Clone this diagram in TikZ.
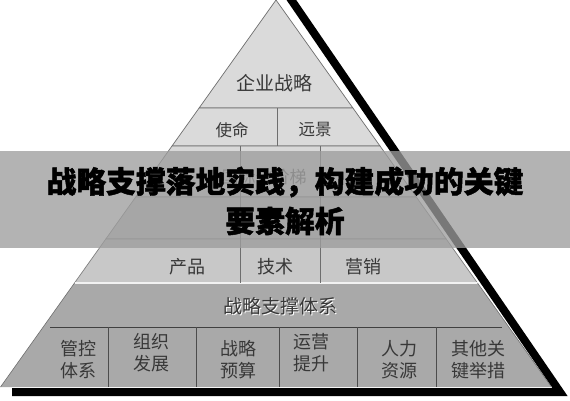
\documentclass[tikz,border=0pt]{standalone}
\usepackage{fontspec}
\newfontfamily\cjk{Noto Sans CJK SC}[BoldFeatures={FakeBold=1.6}]
\usetikzlibrary{positioning}
\definecolor{toplayer}{HTML}{DADADA}
\definecolor{ladderlayer}{HTML}{D8D8D8}
\definecolor{grouplayer}{HTML}{C4C4C4}
\definecolor{prodlayer}{HTML}{C8C8C8}
\definecolor{baselayer}{HTML}{A9A9A9}
\definecolor{rowline}{HTML}{6E6E6E}
\definecolor{inktext}{HTML}{383838}
\definecolor{veil}{HTML}{9D9D9D}
\tikzset{
	layer/.style={draw=rowline, line width=0.7pt, line join=round},
	divider/.style={draw=rowline, line width=0.8pt},
	cell/.style={font=\cjk\fontsize{18}{22}\selectfont, text=inktext, align=center, inner sep=0pt},
	banner/.style={fill=veil, fill opacity=0.77},
	headline/.style={font=\cjk\bfseries\fontsize{29.8}{39}\selectfont, text=black, inner sep=0pt}
}

\begin{document}
\begin{tikzpicture}[x=1pt, y=-1pt]
\useasboundingbox (0,0) rectangle (570,400);
\fill[white] (0,0) rectangle (570,400);

% shadow behind the pyramid
\draw[line width=8pt, miter limit=20] (290,-2) -- (560,392) -- (12,392);

% layers, top to bottom
\filldraw[layer, fill=toplayer] (276,0) -- (352.9,108) -- (199.1,108) -- cycle;
\filldraw[layer, fill=toplayer] (199.1,108) -- (352.9,108) -- (380,146) -- (172,146) -- cycle;
\filldraw[layer, fill=ladderlayer] (172,146) -- (380,146) -- (416.3,197) -- (135.7,197) -- cycle;
\filldraw[layer, fill=grouplayer, draw=gray] (135.7,197) -- (416.3,197) -- (446.2,239) -- (105.8,239) -- cycle;
\filldraw[layer, fill=prodlayer, draw=gray] (105.8,239) -- (446.2,239) -- (477.5,283) -- (74.5,283) -- cycle;
\fill[baselayer] (74.5,283) -- (477.5,283) -- (551.5,387) -- (0.5,387) -- cycle;
\draw[white!90!gray, line width=1.5pt] (74.5,283) -- (477.5,283);
\draw[rowline, line width=0.6pt] (0.5,387) -- (74.5,283) (477.5,283) -- (551.5,387);
\draw[black!75, line width=1pt] (50,327) -- (502,327);

% cell dividers
\draw[divider] (277,108) -- (277,146);
\draw[divider] (240,146) -- (240,283);
\draw[divider] (320,146) -- (320,283);
\draw[divider, black!70] (108,327) -- (108,387);
\draw[divider, black!70] (196,327) -- (196,387);
\draw[divider, black!70] (279,327) -- (279,387);
\draw[divider, black!70] (357,327) -- (357,387);
\draw[divider, black!70] (436,327) -- (436,387);

% labels
\node[cell, font=\cjk\fontsize{19}{22}\selectfont] (strategy) at (274,83) {企业战略};
\node[cell, font=\cjk\fontsize{16.5}{20}\selectfont] (mission) at (232,130) {使命};
\node[cell, font=\cjk\fontsize{16.5}{20}\selectfont] (vision) at (315,130) {远景};
\node[cell, font=\cjk\fontsize{17}{20}\selectfont, text=black!65] (ladder) at (264,177) {国际化阶梯};
\node[cell] (product) at (187,267) {产品};
\node[cell] (tech) at (275,267) {技术};
\node[cell] (marketing) at (363,267) {营销};
\node[cell, text=white, font=\cjk\fontsize{19}{22}\selectfont] (supportglow) at (281,307) {战略支撑体系};
\node[cell, font=\cjk\fontsize{19}{22}\selectfont] (support) at (280,306) {战略支撑体系};
\node[cell] (control) at (78,360) {管控\\体系};
\node[cell] (organise) at (151,353) {组织\\发展};
\node[cell] (budget) at (238,360) {战略\\预算};
\node[cell] (operate) at (311,353) {运营\\提升};
\node[cell] (people) at (399,360) {人力\\资源};
\node[cell] (others) at (478,360) {其他关\\键举措};

% title band
\fill[banner] (0,151) rectangle (570,248);
\node[headline] (title) at (285,182) {战略支撑落地实践，构建成功的关键};
\node[headline] (subtitle) at (285,221) {要素解析};

\end{tikzpicture}
\end{document}
